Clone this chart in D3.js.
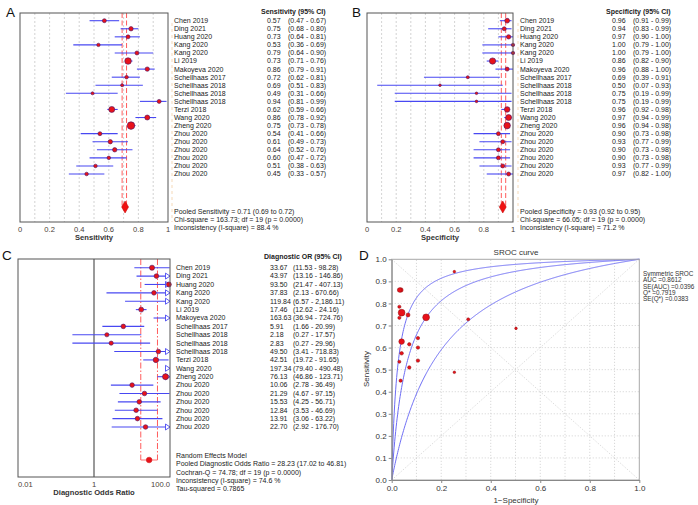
<!DOCTYPE html>
<html><head><meta charset="utf-8">
<script src="https://cdn.jsdelivr.net/npm/d3@7"></script>
<style>
body{margin:0;background:#fff;}
svg{display:block;font-family:"Liberation Sans",Arial,sans-serif;}
</style></head><body>
<svg id="chart" width="698" height="505"></svg>
<script>
// ---------------- DATA ----------------
const studies = ["Chen 2019","Ding 2021","Huang 2020","Kang 2020","Kang 2020","Li 2019","Makoyeva 2020","Schellhaas 2017","Schellhaas 2018","Schellhaas 2018","Schellhaas 2018","Terzi 2018","Wang 2020","Zheng 2020","Zhou 2020","Zhou 2020","Zhou 2020","Zhou 2020","Zhou 2020","Zhou 2020"];

const sens   = [0.57,0.75,0.73,0.53,0.79,0.73,0.86,0.72,0.69,0.49,0.94,0.62,0.86,0.75,0.54,0.61,0.64,0.60,0.51,0.45];
const sensLo = [0.47,0.68,0.64,0.36,0.64,0.71,0.79,0.62,0.51,0.31,0.81,0.59,0.78,0.73,0.41,0.49,0.52,0.47,0.38,0.33];
const sensHi = [0.67,0.80,0.81,0.69,0.90,0.76,0.91,0.81,0.83,0.66,0.99,0.66,0.92,0.78,0.66,0.73,0.76,0.72,0.63,0.57];
const sensWeight = [4,4.8,4,2.9,4,10.9,4.8,3.2,2.3,2.3,4,9,6.3,14.4,4,4.8,4.8,3.2,3.2,3.2];
const sensPooled = {est:0.71, lo:0.69, hi:0.72};
const sensFooter = ["Pooled Sensitivity = 0.71 (0.69 to 0.72)","Chi-square = 163.73; df =  19 (p = 0.0000)","Inconsistency (I-square) = 88.4 %"];

const spec   = [0.96,0.94,0.97,1.00,1.00,0.86,0.96,0.69,0.50,0.75,0.75,0.96,0.97,0.96,0.90,0.93,0.90,0.90,0.93,0.97];
const specLo = [0.91,0.83,0.90,0.79,0.79,0.82,0.88,0.39,0.07,0.19,0.19,0.92,0.94,0.94,0.73,0.77,0.73,0.73,0.77,0.82];
const specHi = [0.99,0.99,1.00,1.00,1.00,0.90,1.00,0.91,0.93,0.99,0.99,0.98,0.99,0.98,0.98,0.99,0.98,0.98,0.99,1.00];
const specWeight = [5.8,4,4.8,2.9,2.9,10,4,2.3,1.7,1.7,1.7,7.8,9,10.9,4,4,4,4,4,4];
const specPooled = {est:0.93, lo:0.92, hi:0.95};
const specFooter = ["Pooled Specificity = 0.93 (0.92 to 0.95)","Chi-square = 66.05; df =  19 (p = 0.0000)","Inconsistency (I-square) = 71.2 %"];

const dor   = [33.67,43.97,93.50,37.83,119.84,17.46,163.63,5.91,2.18,2.83,49.50,42.51,197.34,76.13,10.06,21.29,15.53,12.84,13.91,22.70];
const dorLo = [11.53,13.16,21.47,2.13,6.57,12.62,36.94,1.66,0.27,0.27,3.41,19.72,79.40,46.86,2.78,4.67,4.25,3.53,3.06,2.92];
const dorHi = [98.28,146.86,407.13,670.66,2186.11,24.16,724.76,20.99,17.57,29.96,718.83,91.65,490.48,123.71,36.49,97.15,56.71,46.69,63.22,176.70];
const dorWeight = [6.5,5.5,6.2,5.3,5.3,6.2,5.3,5.3,4.4,4.4,5.3,7.3,5.3,9,5.3,5.3,5.3,5.3,5.3,5.3];
const dorPooled = {est:28.23, lo:17.02, hi:46.81};
const dorFooter = ["Random Effects Model","Pooled Diagnostic Odds Ratio = 28.23 (17.02 to 46.81)","Cochran-Q = 74.78; df =  19 (p = 0.0000)","Inconsistency (I-square) = 74.6 %","Tau-squared = 0.7865"];

const srocFpr = [0.040,0.066,0.031,0.031,0.031,0.139,0.037,0.309,0.502,0.253,0.253,0.040,0.032,0.040,0.106,0.071,0.106,0.106,0.071,0.036];
const srocTpr = [0.574,0.748,0.735,0.536,0.785,0.737,0.861,0.728,0.687,0.488,0.944,0.627,0.861,0.758,0.541,0.615,0.643,0.600,0.510,0.450];
const srocWeight = [3.2,4,2.6,2.3,2.6,11.6,5.3,2.3,1.7,1.7,1.7,7.8,5.3,11.6,2.9,2.9,2.9,2.9,2.9,2.6];
const srocLogDOR = [3.75, 2.85, 1.75];   // upper, fitted, lower symmetric SROC curves (ln DOR)
const srocStats = ["Symmetric SROC","AUC =0.8612","SE(AUC) =0.0396","Q* =0.7919","SE(Q*) =0.0383"];

const propTicks = [0,0.2,0.4,0.6,0.8,1];
const dorTicks = [0.01,1,100];
const dorTickLabels = ["0.01","1","100.0"];

// ---------------- DRAWING ----------------
const svg = d3.select("#chart");
const rScale = d3.scaleSqrt().domain([0,16]).range([0,4]);
const f2 = d3.format(".2f"), fc2 = d3.format(",.2f");
const TXT = "#222", CI = "#4848f2", PT = "#e8121a", PTS = "#4a1466";

function forest(p) {
  const g = svg.append("g");
  const x = p.x, y = p.y;
  const [d0, d1] = x.domain();
  const [x0, x1] = x.range();
  if (p.grid) g.selectAll(null).data(p.grid).join("line")
    .attr("x1", d => x(d)).attr("x2", d => x(d)).attr("y1", p.top).attr("y2", p.bottom)
    .attr("stroke", "#c8c8c8").attr("stroke-dasharray", "2,2").attr("stroke-width", 0.8);
  if (p.ref != null) g.append("line").attr("x1", x(p.ref)).attr("x2", x(p.ref))
    .attr("y1", p.top).attr("y2", p.bottom).attr("stroke", "#555").attr("stroke-width", 1.2);
  if (p.sep != null) g.append("line").attr("x1", p.sep).attr("x2", p.sep)
    .attr("y1", p.top + 10).attr("y2", p.bottom).attr("stroke", "#f3cfa6")
    .attr("stroke-dasharray", "3,3").attr("stroke-width", 0.8);
  g.selectAll(null).data([p.pooled.lo, p.pooled.hi]).join("line")
    .attr("x1", d => x(d)).attr("x2", d => x(d)).attr("y1", p.top).attr("y2", p.pooledY)
    .attr("stroke", "#ff5c5c").attr("stroke-dasharray", p.dash).attr("stroke-width", 1);
  if (p.bracket) g.append("line").attr("x1", x(p.pooled.lo)).attr("x2", x(p.pooled.hi))
    .attr("y1", p.pooledY).attr("y2", p.pooledY).attr("stroke", "#ff7070").attr("stroke-width", 1);
  const rows = p.est.map((e, i) => ({e, lo: p.lo[i], hi: p.hi[i], w: p.w[i], i}));
  g.selectAll(null).data(rows).join("line")
    .attr("x1", d => x(Math.max(d.lo, d0))).attr("x2", d => x(Math.min(d.hi, d1)))
    .attr("y1", d => y(d.i)).attr("y2", d => y(d.i))
    .attr("stroke", CI).attr("stroke-width", 1.1);
  g.selectAll(null).data(rows.filter(d => d.hi > d1)).join("path")
    .attr("d", d => `M${x1 - 4.5},${y(d.i) - 3}L${x1},${y(d.i)}L${x1 - 4.5},${y(d.i) + 3}Z`)
    .attr("fill", "#fff").attr("stroke", CI).attr("stroke-width", 0.9);
  g.selectAll(null).data(rows.filter(d => d.e <= d1 && d.e >= d0)).join("circle")
    .attr("cx", d => x(d.e)).attr("cy", d => y(d.i)).attr("r", d => rScale(d.w))
    .attr("fill", PT).attr("stroke", PTS).attr("stroke-width", 0.6);
  if (p.pooledShape === "diamond") {
    g.append("path").attr("d", d3.symbol().type(d3.symbolDiamond).size(42)())
      .attr("transform", `translate(${x(p.pooled.est)},${p.pooledY})`)
      .attr("fill", "#f01010").attr("stroke", "#c00000").attr("stroke-width", 0.5);
  } else {
    g.append("circle").attr("cx", x(p.pooled.est)).attr("cy", p.pooledY).attr("r", 2.8)
      .attr("fill", PT).attr("stroke", "#d02020").attr("stroke-width", 0.6);
  }
  g.append("rect").attr("x", x0).attr("y", p.top).attr("width", x1 - x0).attr("height", p.bottom - p.top)
    .attr("fill", "none").attr("stroke", "#555").attr("stroke-width", 1);
  g.selectAll(null).data(p.ticks).join("text")
    .attr("x", d => x(d)).attr("y", p.bottom + 9.5)
    .attr("text-anchor", (d, i) => p.tickAnchor ? p.tickAnchor[i] : "middle")
    .attr("font-size", 7.6).attr("fill", "#4a4038")
    .text((d, i) => p.tickLabels ? p.tickLabels[i] : d3.format("~g")(d));
  g.append("text").attr("x", (x0 + x1) / 2).attr("y", p.bottom + 18)
    .attr("text-anchor", "middle").attr("font-size", 7.6).attr("font-weight", "bold")
    .attr("fill", "#333").text(p.title);
  const t = svg.append("g").attr("font-size", p.fs).attr("fill", TXT)
    .attr("clip-path", p.clip ? "url(#" + p.clip + ")" : null);
  t.append("text").attr("x", p.hx).attr("y", p.headY).attr("font-weight", "bold").text(p.header);
  t.selectAll(null).data(studies).join("text").attr("x", p.nx).attr("y", (d, i) => y(i) + 2.4).text(d => d);
  t.selectAll(null).data(rows).join("text").attr("x", p.vx).attr("y", d => y(d.i) + 2.4).text(d => p.fmt(d.e));
  t.selectAll(null).data(rows).join("text").attr("x", p.cx).attr("y", d => y(d.i) + 2.4)
    .text(d => "(" + p.fmt(d.lo) + " - " + p.fmt(d.hi) + ")");
  t.selectAll(null).data(p.footer).join("text").attr("x", p.nx).attr("y", (d, i) => p.footY + i * p.footDy).text(d => d);
}

svg.append("defs").append("clipPath").attr("id", "clipC")
  .append("rect").attr("x", 0).attr("y", 240).attr("width", 348).attr("height", 265);

// Panel A
const rowY1 = d3.scaleLinear().domain([0, 19]).range([20.7, 174]);
forest({x: d3.scaleLinear().domain([0, 1]).range([20, 168]), y: rowY1, top: 13, bottom: 222,
  grid: d3.range(1, 10).map(k => k / 10), sep: 172,
  est: sens, lo: sensLo, hi: sensHi, w: sensWeight, pooled: sensPooled, pooledY: 207, dash: "5,2.5",
  pooledShape: "diamond", ticks: propTicks, title: "Sensitivity",
  header: "Sensitivity (95% CI)", hx: 261, headY: 13.5, nx: 174, vx: 267, cx: 288, fs: 7, fmt: f2,
  footer: sensFooter, footY: 214, footDy: 8});
// Panel B
forest({x: d3.scaleLinear().domain([0, 1]).range([367, 513]), y: rowY1, top: 13, bottom: 222,
  grid: d3.range(1, 10).map(k => k / 10), sep: 518,
  est: spec, lo: specLo, hi: specHi, w: specWeight, pooled: specPooled, pooledY: 207, dash: "5,2.5",
  pooledShape: "diamond", ticks: propTicks, title: "Specificity",
  header: "Specificity (95% CI)", hx: 606, headY: 13.5, nx: 520, vx: 612, cx: 633, fs: 7, fmt: f2,
  footer: specFooter, footY: 214, footDy: 8});
// Panel C
forest({x: d3.scaleLog().domain([0.01, 100]).range([18, 170]),
  y: d3.scaleLinear().domain([0, 19]).range([267.7, 427]), top: 259, bottom: 477, ref: 1,
  est: dor, lo: dorLo, hi: dorHi, w: dorWeight, pooled: dorPooled, pooledY: 460, dash: "6,2,1.5,2", bracket: true,
  pooledShape: "circle", ticks: dorTicks, tickLabels: dorTickLabels, tickAnchor: ["start", "middle", "end"],
  title: "Diagnostic Odds Ratio",
  header: "Diagnostic OR (95% CI)", hx: 264, headY: 258.5, nx: 176, vx: 270, cx: 293, fs: 7, fmt: fc2,
  footer: dorFooter, footY: 458, footDy: 8.3, clip: "clipC"});

// Panel D : SROC
const xD = d3.scaleLinear().domain([0, 1]).range([391.7, 639.3]);
const yD = d3.scaleLinear().domain([0, 1]).range([480, 259.3]);
const gD = svg.append("g");
const gridV = d3.range(1, 10).map(k => k / 10);
gD.selectAll(null).data(gridV).join("line").attr("x1", d => xD(d)).attr("x2", d => xD(d))
  .attr("y1", yD(0)).attr("y2", yD(1)).attr("stroke", "#cfcfcf").attr("stroke-dasharray", "1.2,1.8").attr("stroke-width", 0.8);
gD.selectAll(null).data(gridV).join("line").attr("y1", d => yD(d)).attr("y2", d => yD(d))
  .attr("x1", xD(0)).attr("x2", xD(1)).attr("stroke", "#cfcfcf").attr("stroke-dasharray", "1.2,1.8").attr("stroke-width", 0.8);
gD.append("line").attr("x1", xD(0)).attr("y1", yD(0)).attr("x2", xD(1)).attr("y2", yD(1))
  .attr("stroke", "#d4d4d4").attr("stroke-dasharray", "1.5,1.5").attr("stroke-width", 0.8);
gD.append("line").attr("x1", xD(0)).attr("y1", yD(1)).attr("x2", xD(1)).attr("y2", yD(0))
  .attr("stroke", "#d4d4d4").attr("stroke-dasharray", "1.5,1.5").attr("stroke-width", 0.8);
const fprGrid = d3.range(0, 1.0001, 0.002);
const line = d3.line().x(d => xD(d[0])).y(d => yD(d[1]));
srocLogDOR.forEach(a => {
  const pts = fprGrid.map(f => {
    if (f <= 0) return [0, 0];
    if (f >= 1) return [1, 1];
    const lt = a + Math.log(f / (1 - f));
    return [f, 1 / (1 + Math.exp(-lt))];
  });
  gD.append("path").attr("d", line(pts)).attr("fill", "none").attr("stroke", "#6d6df5").attr("stroke-width", 1);
});
gD.selectAll(null).data(srocFpr.map((f, i) => ({f, t: srocTpr[i], w: srocWeight[i]}))).join("circle")
  .attr("cx", d => xD(d.f)).attr("cy", d => yD(d.t)).attr("r", d => rScale(d.w))
  .attr("fill", "#e8101a").attr("stroke", "#8a1010").attr("stroke-width", 0.5);
gD.append("rect").attr("x", xD(0)).attr("y", yD(1)).attr("width", xD(1) - xD(0)).attr("height", yD(0) - yD(1))
  .attr("fill", "none").attr("stroke", "#a8a8a8").attr("stroke-width", 1);
const axY = gD.append("g").attr("transform", `translate(${xD(0)},0)`)
  .call(d3.axisLeft(yD).tickValues(d3.range(0, 11).map(k => k / 10)).tickFormat(d3.format(".1f")).tickSize(3).tickPadding(2).tickSizeOuter(0));
const axX = gD.append("g").attr("transform", `translate(0,${yD(0)})`)
  .call(d3.axisBottom(xD).tickValues([0, 0.2, 0.4, 0.6, 0.8, 1]).tickFormat(d3.format(".1f")).tickSize(3).tickPadding(2).tickSizeOuter(0));
[axY, axX].forEach(a => {
  a.selectAll("text").attr("font-size", 8).attr("fill", "#333").attr("font-family", "Liberation Sans, Arial, sans-serif");
  a.selectAll("line").attr("stroke", "#888");
  a.select(".domain").attr("stroke", "#888");
});
gD.append("text").attr("transform", `translate(369,369) rotate(-90)`).attr("text-anchor", "middle")
  .attr("font-size", 8).attr("fill", "#333").text("Sensitivity");
gD.append("text").attr("x", 516).attr("y", 503).attr("text-anchor", "middle")
  .attr("font-size", 8).attr("fill", "#333").text("1\u2212Specificity");
gD.append("text").attr("x", 516).attr("y", 254.5).attr("text-anchor", "middle")
  .attr("font-size", 8).attr("fill", "#333").text("SROC curve");
gD.selectAll(null).data(srocStats).join("text").attr("x", 643).attr("y", (d, i) => 276 + i * 6.3)
  .attr("font-size", 6.4).attr("fill", "#333").text(d => d);

[["A", 6, 17], ["B", 352, 17], ["C", 2, 260], ["D", 359, 260]].forEach(([l, x, y]) =>
  svg.append("text").attr("x", x).attr("y", y).attr("font-size", 13.5).attr("fill", "#111").text(l));
</script>
</body></html>
